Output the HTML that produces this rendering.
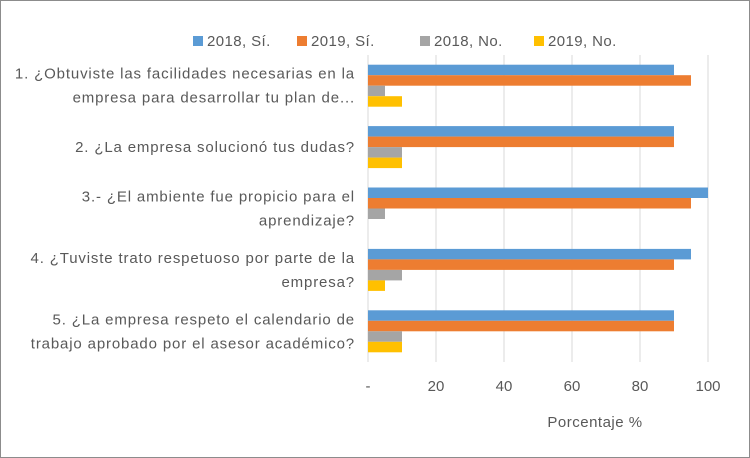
<!DOCTYPE html>
<html><head><meta charset="utf-8"><style>
body{margin:0;background:#fff}
svg{display:block;font-family:"Liberation Sans",sans-serif}
</style></head><body>
<svg id="c" width="750" height="458" viewBox="0 0 750 458">
<rect x="0.5" y="0.5" width="749" height="457" fill="#fff" stroke="#8c8c8c"/>
<g id="grid"></g><g id="bars"></g><g id="labels"></g><g id="ticks"></g><g id="legend"></g>
<text x="595" y="427" font-size="15" letter-spacing="0.5" fill="#595959" text-anchor="middle">Porcentaje %</text>
</svg>
<script>
const categories=[["1. ¿Obtuviste las facilidades necesarias en la","empresa para desarrollar tu plan de..."],["2. ¿La empresa solucionó tus dudas?"],["3.- ¿El ambiente fue propicio para el","aprendizaje?"],["4. ¿Tuviste trato respetuoso por parte de la","empresa?"],["5. ¿La empresa respeto el calendario de","trabajo aprobado por el asesor académico?"]];
const seriesNames=["2018, Sí.","2019, Sí.","2018, No.","2019, No."];
const s2018si=[90,90,100,95,90];
const s2019si=[95,90,95,90,90];
const s2018no=[5,10,5,10,10];
const s2019no=[10,10,0,5,10];
const tickValues=[0,20,40,60,80,100];
const tickLabels=["-","20","40","60","80","100"];
const colors=["#5b9bd5","#ed7d31","#a5a5a5","#ffc000"];
const series=[s2018si,s2019si,s2018no,s2019no];
const NS="http://www.w3.org/2000/svg";
const x0=368,x1=708,plotTop=55,plotBot=362;
const xs=v=>x0+(x1-x0)*v/100;
const band=(plotBot-plotTop)/categories.length, bh=10.5, off=(band-4*bh)/2;
function mk(t,a,p){const e=document.createElementNS(NS,t);for(const k in a)e.setAttribute(k,a[k]);document.getElementById(p).appendChild(e);return e;}
tickValues.forEach((v,i)=>{
 const g=mk("line",{x1:xs(v),x2:xs(v),y1:plotTop,y2:plotBot,stroke:"#d9d9d9","stroke-width":1},"grid");
 
 
 const t=mk("text",{x:xs(v),y:391,"font-size":15,fill:"#595959","text-anchor":"middle"},"ticks");
 t.textContent=tickLabels[i];
 
 
});
categories.forEach((c,i)=>{
 const yb=plotTop+band*i;
 series.forEach((s,j)=>{
  const r=mk("rect",{x:xs(0),y:yb+off+j*bh,width:xs(s[i])-xs(0),height:bh,fill:colors[j]},"bars");
  
  
 });
 const cy=yb+band/2;
 c.forEach((ln,k)=>{
  const t=mk("text",{x:355,y:cy+5+(k-(c.length-1)/2)*24,"font-size":15,"letter-spacing":0.85,fill:"#595959","text-anchor":"end"},"labels");
  t.textContent=ln;
  
  
 });
});
const lx=[193,297,420,534];
seriesNames.forEach((n,j)=>{
 const r=mk("rect",{x:lx[j],y:36,width:10,height:10,fill:colors[j]},"legend");
 
 
 const t=mk("text",{x:lx[j]+14,y:46,"font-size":15,"letter-spacing":0.4,fill:"#595959"},"legend");
 t.textContent=n;
 
 
});
</script>
</body></html>
